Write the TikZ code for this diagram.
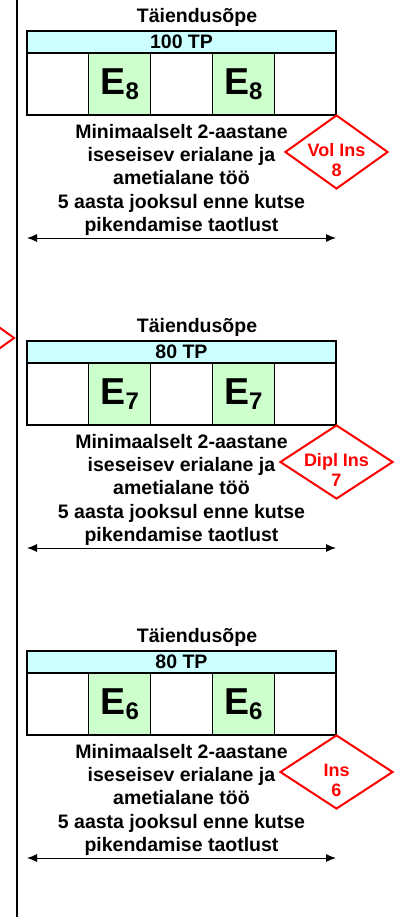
\documentclass[tikz,border=0pt]{standalone}
\usepackage{fontspec}
\setmainfont{Liberation Sans}
\usetikzlibrary{shapes,arrows.meta,positioning,calc}
\definecolor{tpcyan}{HTML}{CCFFFF}
\definecolor{ecgreen}{HTML}{CCFFCC}
\newcommand{\esub}[1]{E\raisebox{-5pt}{\fontsize{24}{24}\selectfont #1}}

\begin{document}
\begin{tikzpicture}
[x=1pt,y=-1pt,
node distance=0pt,
%
txt/.style={font=\bfseries\fontsize{19.5}{23.3}\selectfont,inner sep=0pt},
tpbar/.style={txt,draw=black,line width=1.5pt,fill=tpcyan,minimum width=309pt,minimum height=22pt,outer sep=0pt},
cell/.style={draw=black,line width=1.2pt,fill=white,minimum width=61.8pt,minimum height=62pt,inner sep=0pt,outer sep=0pt,font=\bfseries\fontsize{37.5}{37.5}\selectfont},
ecell/.style={cell,fill=ecgreen},
ins/.style={shape=diamond,draw=red,line width=2pt,minimum width=#1,minimum height=74pt,inner sep=0pt},
ins/.default=103pt,
instxt/.style={txt,text=red,align=center,font=\bfseries\fontsize{18}{20}\selectfont},
%
span/.style={{Latex[length=10pt,width=8pt]}-{Latex[length=10pt,width=8pt]},line width=1pt}]
%
\useasboundingbox (0,0) rectangle (398,917);
\clip (0,0) rectangle (398,917);
% left rule
\coordinate (top) at (17,0);
\coordinate (bot) at (17,917);
\draw[line width=1.8pt] (top) -- (bot);
% diamond cut by the left edge
\node (dl) [ins] at (-37,338) {};
% the three levels
\foreach \k/\tp/\lvl/\insname/\w in {0/100/8/Vol Ins/103,1/80/7/Dipl Ins/113,2/80/6/Ins/113}{
\begin{scope}[shift={(0,310*\k)}]
\node (t\k) [txt] at (197,17) {Täiendusõpe};
\node (b\k) [tpbar] at (181.5,42) {\tp{} TP};
\node (c\k1) [cell,anchor=north west] at (b\k.south west) {};
\node (c\k2) [ecell,right=of c\k1] {\esub{\lvl}};
\node (c\k3) [cell,right=of c\k2] {};
\node (c\k4) [ecell,right=of c\k3] {\esub{\lvl}};
\node (c\k5) [cell,right=of c\k4] {};
\node (m\k) [txt,align=center,anchor=north] at (181.5,124) {Minimaalselt 2-aastane\\iseseisev erialane ja\\ametialane töö\\5 aasta jooksul enne kutse\\pikendamise taotlust};
\node (d\k) [ins=\w pt] at (336.5,152) {};
\node (n\k) [instxt] at (336.5,160) {\insname\\\lvl};
% time span
\coordinate (l\k) at (27,238);
\coordinate (r\k) at (336,238);
\draw[span] (l\k) -- (r\k);
\end{scope}
}
\end{tikzpicture}
\end{document}
